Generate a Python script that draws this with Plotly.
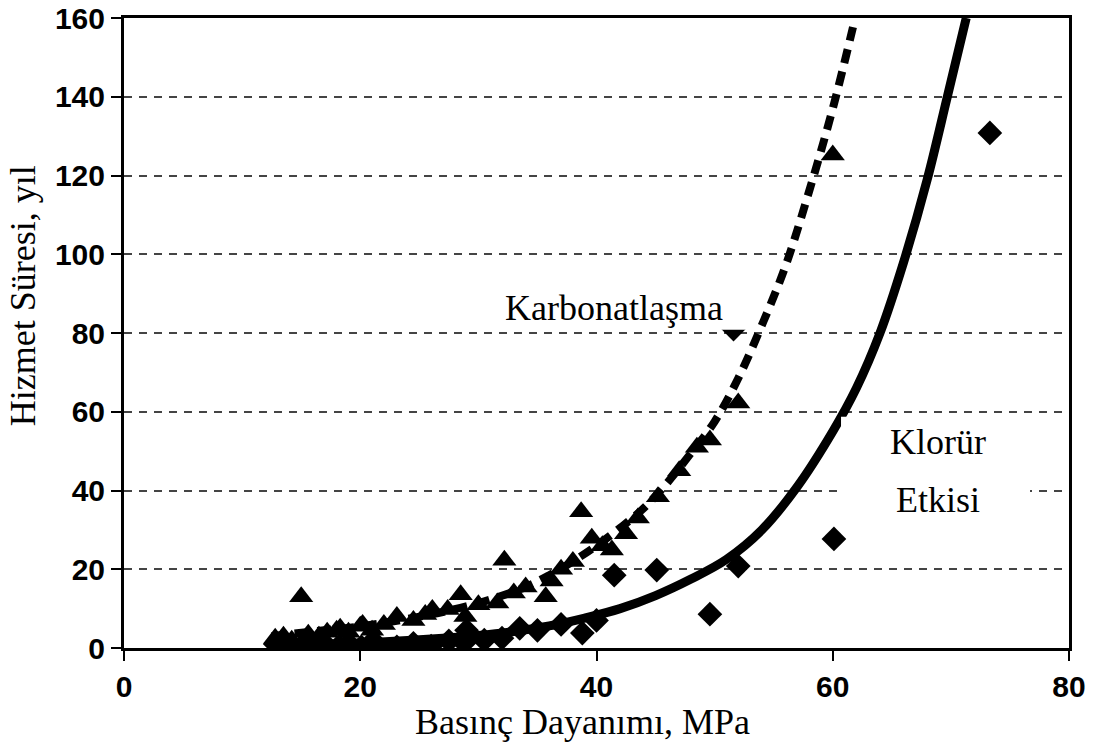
import plotly.graph_objects as go

# Carbonation data (triangles)
carb_x = [12.8, 13.5, 14.2, 15.0, 15.6, 16.5, 17.2, 18.0, 18.3, 19.0, 20.0, 20.2, 21.0, 22.0, 23.1,
          24.5, 25.5, 26.1, 27.4, 28.5, 28.9, 30.0, 31.6, 32.2, 33.0, 34.0, 35.7, 36.2, 37.0,
          38.0, 38.7, 39.6, 40.5, 41.3, 42.5, 43.5, 45.2, 47.0, 48.5, 49.6, 52.0, 60.0]
carb_y = [2.5, 3.0, 2.0, 13.0, 3.5, 3.0, 4.0, 4.5, 5.0, 4.0, 5.5, 6.0, 4.5, 6.0, 8.0,
          7.0, 8.5, 9.8, 9.8, 13.5, 8.0, 11.0, 11.4, 22.3, 14.0, 15.5, 13.0, 17.0, 20.0,
          22.0, 34.6, 27.9, 26.0, 24.9, 29.0, 33.0, 38.4, 45.0, 51.0, 52.8, 62.2, 125.2]

# Chloride data (diamonds)
chl_x = [12.8, 13.8, 15.2, 16.2, 17.2, 18.2, 19.0, 20.1, 21.0, 21.5, 23.1, 24.5, 26.0, 27.5,
         28.8, 29.0, 30.5, 32.0, 33.5, 35.0, 37.0, 38.8, 40.0, 41.5, 45.1, 49.6, 52.0, 51.6,
         60.1, 73.3]
chl_y = [1.0, 0.8, 0.3, 1.0, 0.5, 0.5, 1.2, 0.3, 1.5, 0.6, 0.3, 1.2, 0.5, 1.8,
         1.3, 4.5, 2.0, 2.5, 5.0, 4.5, 6.0, 3.8, 7.0, 18.5, 19.8, 8.6, 20.8, 81.0,
         27.7, 130.8]

# Fitted curves
carb_fit_x = [12.5, 16, 20, 24, 27.5, 31, 34, 36, 38, 40, 42, 44, 46, 48, 50, 52, 54, 56, 58, 60, 61.9]
carb_fit_y = [3.0, 4.2, 5.5, 7.4, 9.5, 12.3, 15.5, 18.5, 22.0, 26.0, 30.5, 35.5, 42.0, 49.5,
              57.5, 68.5, 82.0, 97.0, 116.0, 137.0, 160.0]

chl_fit_x = [12.5, 16, 20, 24, 27, 30, 33, 36, 39, 42, 45, 48, 51, 54, 57, 60, 62, 64, 66, 68, 69.7, 71.3]
chl_fit_y = [0.7, 0.9, 1.3, 1.9, 2.5, 3.2, 4.2, 5.6, 7.6, 10.0, 13.3, 17.5, 22.5, 30.0, 41.0,
             55.0, 66.0, 80.0, 98.0, 119.0, 140.0, 160.0]

x_ticks = [0, 20, 40, 60, 80]
y_ticks = [0, 20, 40, 60, 80, 100, 120, 140, 160]

fig = go.Figure()
fig.add_trace(go.Scatter(x=carb_x, y=carb_y, mode="markers",
                         marker=dict(symbol="triangle-up", size=21, color="black"),
                         showlegend=False))
fig.add_trace(go.Scatter(x=chl_x, y=chl_y, mode="markers",
                         marker=dict(symbol="diamond", size=19, color="black"),
                         showlegend=False))
fig.add_trace(go.Scatter(x=carb_fit_x, y=carb_fit_y, mode="lines",
                         line=dict(color="black", width=8, dash="14px,9px", shape="spline"),
                         showlegend=False))
fig.add_trace(go.Scatter(x=chl_fit_x, y=chl_fit_y, mode="lines",
                         line=dict(color="black", width=9, shape="spline"),
                         showlegend=False))

serif = "Liberation Serif, Times New Roman, serif"

# white label boxes
fig.add_shape(type="rect", xref="x", yref="y", x0=31.3, x1=52.8, y0=80.8, y1=92.2,
              fillcolor="white", line=dict(width=0), layer="above")
fig.add_shape(type="rect", xref="x", yref="y", x0=60.7, x1=76.7, y0=30.0, y1=58.7,
              fillcolor="white", line=dict(width=0), layer="above")

fig.add_annotation(x=41.5, y=86.3, text="Karbonatlaşma", showarrow=False,
                   font=dict(family=serif, size=36, color="black"))
fig.add_annotation(x=68.9, y=52.3, text="Klorür", showarrow=False,
                   font=dict(family=serif, size=36, color="black"))
fig.add_annotation(x=68.9, y=37.6, text="Etkisi", showarrow=False,
                   font=dict(family=serif, size=36, color="black"))

# axis titles
fig.add_annotation(xref="paper", yref="paper", x=0.4847, y=-0.1175, text="Basınç Dayanımı, MPa",
                   showarrow=False, xanchor="center", yanchor="middle",
                   font=dict(family=serif, size=36, color="black"))
fig.add_annotation(xref="paper", yref="paper", x=-0.1069, y=0.560, text="Hizmet Süresi, yıl",
                   showarrow=False, xanchor="center", yanchor="middle", textangle=-90,
                   font=dict(family=serif, size=36, color="black"))

tickfont = dict(family="Liberation Sans, Arial, sans-serif", size=30, color="black", weight="bold")

fig.update_layout(
    width=1094, height=747,
    margin=dict(l=124, r=25, t=18, b=99, autoexpand=False),
    paper_bgcolor="white", plot_bgcolor="white",
    xaxis=dict(range=[0, 80], tickvals=x_ticks, ticks="outside", ticklen=10, tickwidth=2,
               tickcolor="black", showline=True, linecolor="black", linewidth=3, mirror=True,
               showgrid=False, zeroline=False, tickfont=tickfont, automargin=False),
    yaxis=dict(range=[0, 160], tickvals=y_ticks, ticks="outside", ticklen=10, tickwidth=2,
               tickcolor="black", showline=True, linecolor="black", linewidth=3, mirror=True,
               showgrid=True, gridcolor="#444444", gridwidth=2, griddash="8px,7px",
               zeroline=False, tickfont=tickfont, automargin=False),
)

fig.write_html("out.html")
